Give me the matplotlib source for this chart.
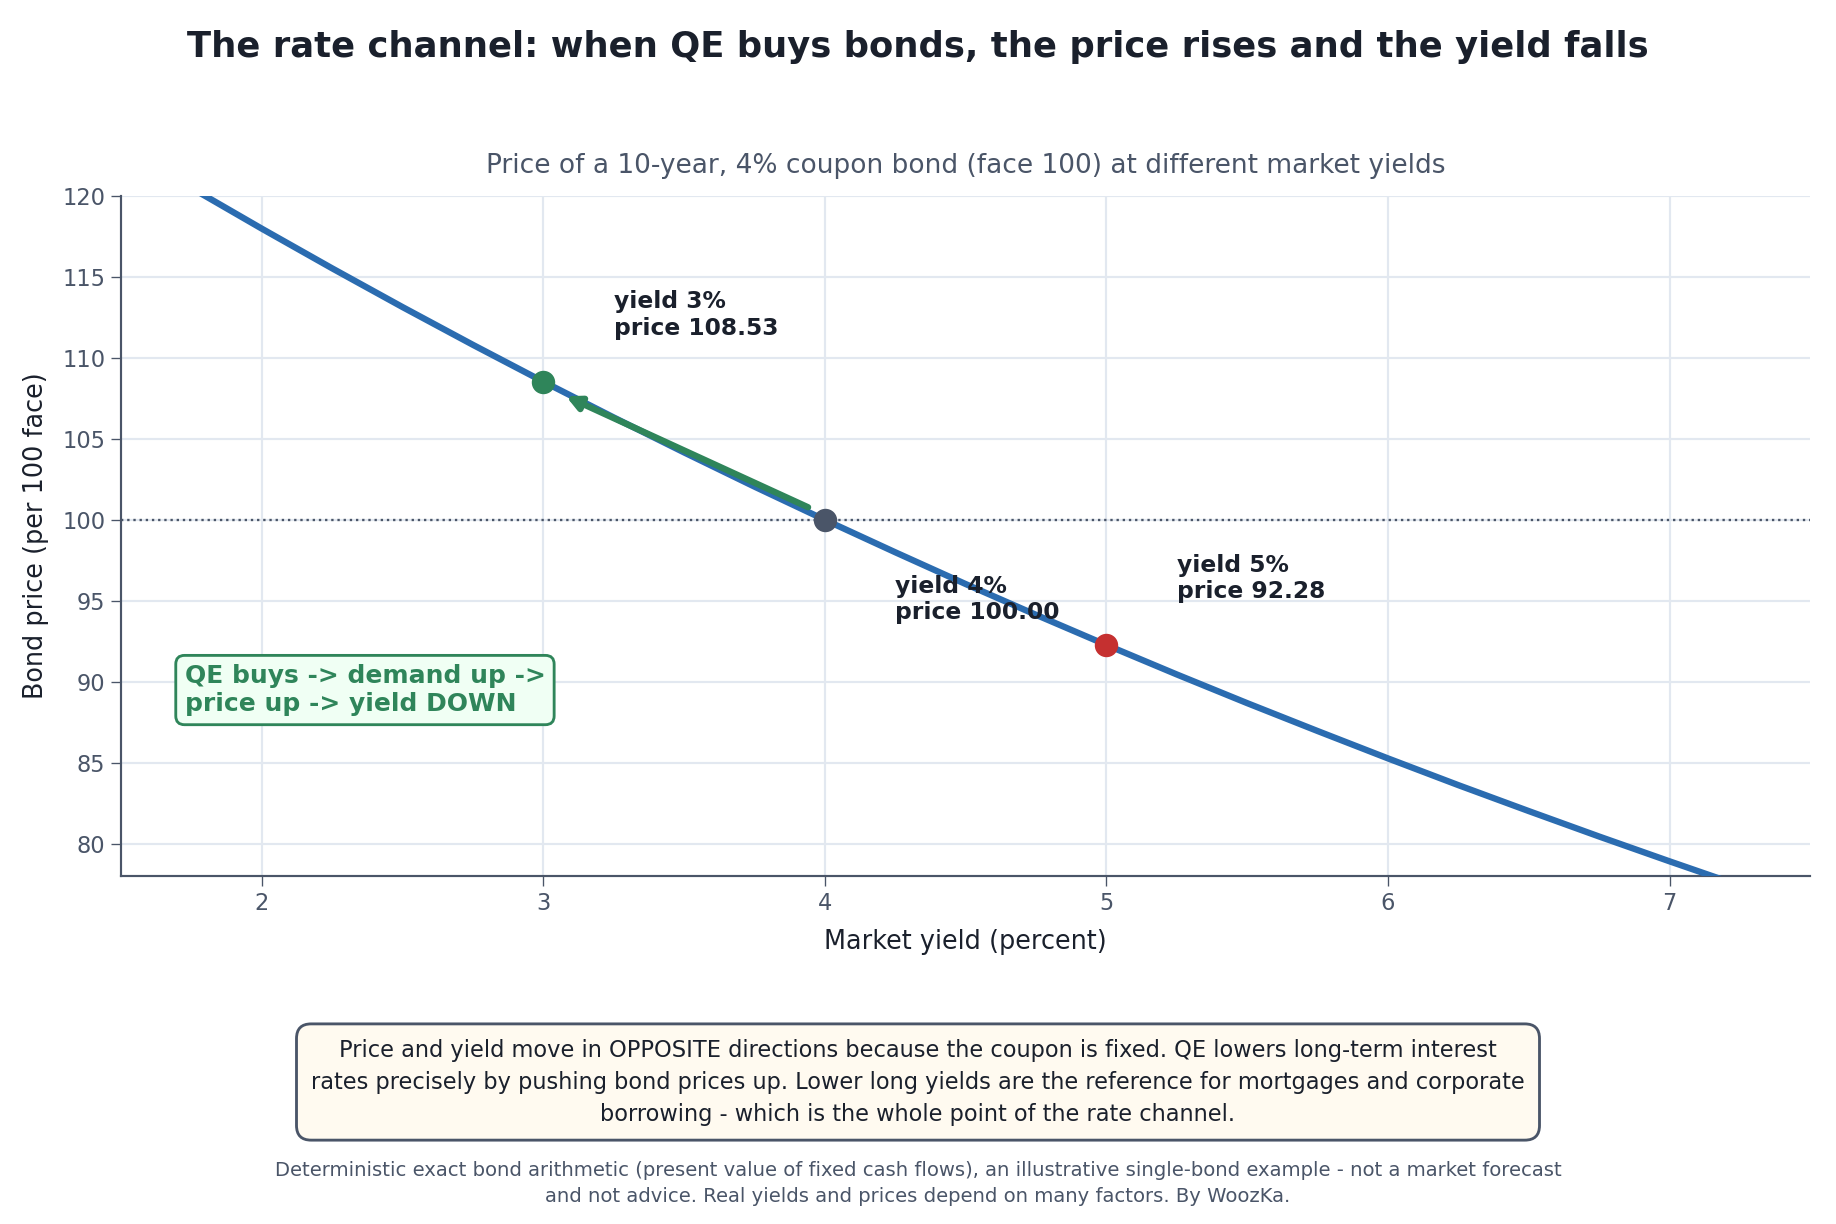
import numpy as np
import matplotlib
matplotlib.use('Agg')
from matplotlib import pyplot as plt

# yields (percent) and bond prices
yields = [1.5, 1.75, 2.0, 2.25, 2.5, 2.75, 3.0, 3.25, 3.5, 3.75, 4.0, 4.25,
          4.5, 4.75, 5.0, 5.25, 5.5, 5.75, 6.0, 6.25, 6.5, 6.75, 7.0, 7.25, 7.5]
prices = [123.06, 120.48, 117.97, 115.52, 113.13, 110.80, 108.53, 106.32,
          104.16, 102.05, 100.00, 98.00, 96.04, 94.14, 92.28, 90.46, 88.69,
          86.97, 85.28, 83.63, 82.03, 80.46, 78.93, 77.43, 75.98]

mark_yields = [3, 4, 5]
mark_prices = [108.53, 100.00, 92.28]
mark_colors = ['#2f855a', '#4a5568', '#c53030']
label_dy = [4.1, -4.9, 4.1]

DARK = '#1a202c'
GREY = '#4a5568'
BLUE = '#2b6cb0'
GREEN = '#2f855a'

fig = plt.figure(figsize=(15.3, 10.2), dpi=120)
ax = fig.add_axes([0.066, 0.284, 0.920, 0.556])

ax.plot(yields, prices, color=BLUE, lw=3.8, zorder=3)
ax.axhline(100, color=GREY, ls=':', lw=1.4, zorder=2)

for x, y, c, dy in zip(mark_yields, mark_prices, mark_colors, label_dy):
    ax.scatter([x], [y], s=170, color=c, zorder=5)
    ax.text(x + 0.25, y + dy, 'yield %d%%\nprice %.2f' % (x, y),
            fontsize=14, fontweight='bold', color=DARK, va='center', ha='left', zorder=6)

ax.annotate('', xy=(3.08, 107.63), xytext=(3.94, 100.78),
            arrowprops=dict(arrowstyle='-|>', color=GREEN, lw=3.8,
                            mutation_scale=17, shrinkA=0, shrinkB=0),
            zorder=4)

ax.text(1.725, 89.5, 'QE buys -> demand up ->\nprice up -> yield DOWN',
        fontsize=15, fontweight='bold', color=GREEN, va='center', ha='left',
        bbox=dict(boxstyle='round,pad=0.35', fc='#f0fff4', ec=GREEN, lw=1.7), zorder=6)

ax.set_xlim(1.5, 7.5)
ax.set_ylim(78, 120)
ax.set_xticks([2, 3, 4, 5, 6, 7])
ax.set_yticks(range(80, 121, 5))
ax.grid(True, color='#e2e8f0', lw=1.3, zorder=0)
ax.set_axisbelow(True)
for s in ['top', 'right']:
    ax.spines[s].set_visible(False)
for s in ['left', 'bottom']:
    ax.spines[s].set_color(GREY)
    ax.spines[s].set_linewidth(1.3)
ax.tick_params(colors=GREY, labelsize=13.5, length=6)
ax.set_xlabel('Market yield (percent)', fontsize=15.3, color=DARK, labelpad=8)
ax.set_ylabel('Bond price (per 100 face)', fontsize=15.3, color=DARK, labelpad=8)
ax.set_title('Price of a 10-year, 4% coupon bond (face 100) at different market yields',
             fontsize=15.8, color=GREY, pad=14)

fig.suptitle('The rate channel: when QE buys bonds, the price rises and the yield falls',
             fontsize=21.2, fontweight='bold', color=DARK, y=0.962, va='center')

fig.text(0.5, 0.116,
         'Price and yield move in OPPOSITE directions because the coupon is fixed. QE lowers long-term interest\n'
         'rates precisely by pushing bond prices up. Lower long yields are the reference for mortgages and corporate\n'
         'borrowing - which is the whole point of the rate channel.',
         ha='center', va='center', fontsize=13.5, color=DARK, linespacing=1.5,
         bbox=dict(boxstyle='round,pad=0.65', fc='#fffaf0', ec=GREY, lw=1.7))

fig.text(0.5, 0.033,
         'Deterministic exact bond arithmetic (present value of fixed cash flows), an illustrative single-bond example - not a market forecast\n'
         'and not advice. Real yields and prices depend on many factors. By WoozKa.',
         ha='center', va='center', fontsize=11.8, color=GREY, linespacing=1.45)

fig.savefig('out.png', dpi=120)
